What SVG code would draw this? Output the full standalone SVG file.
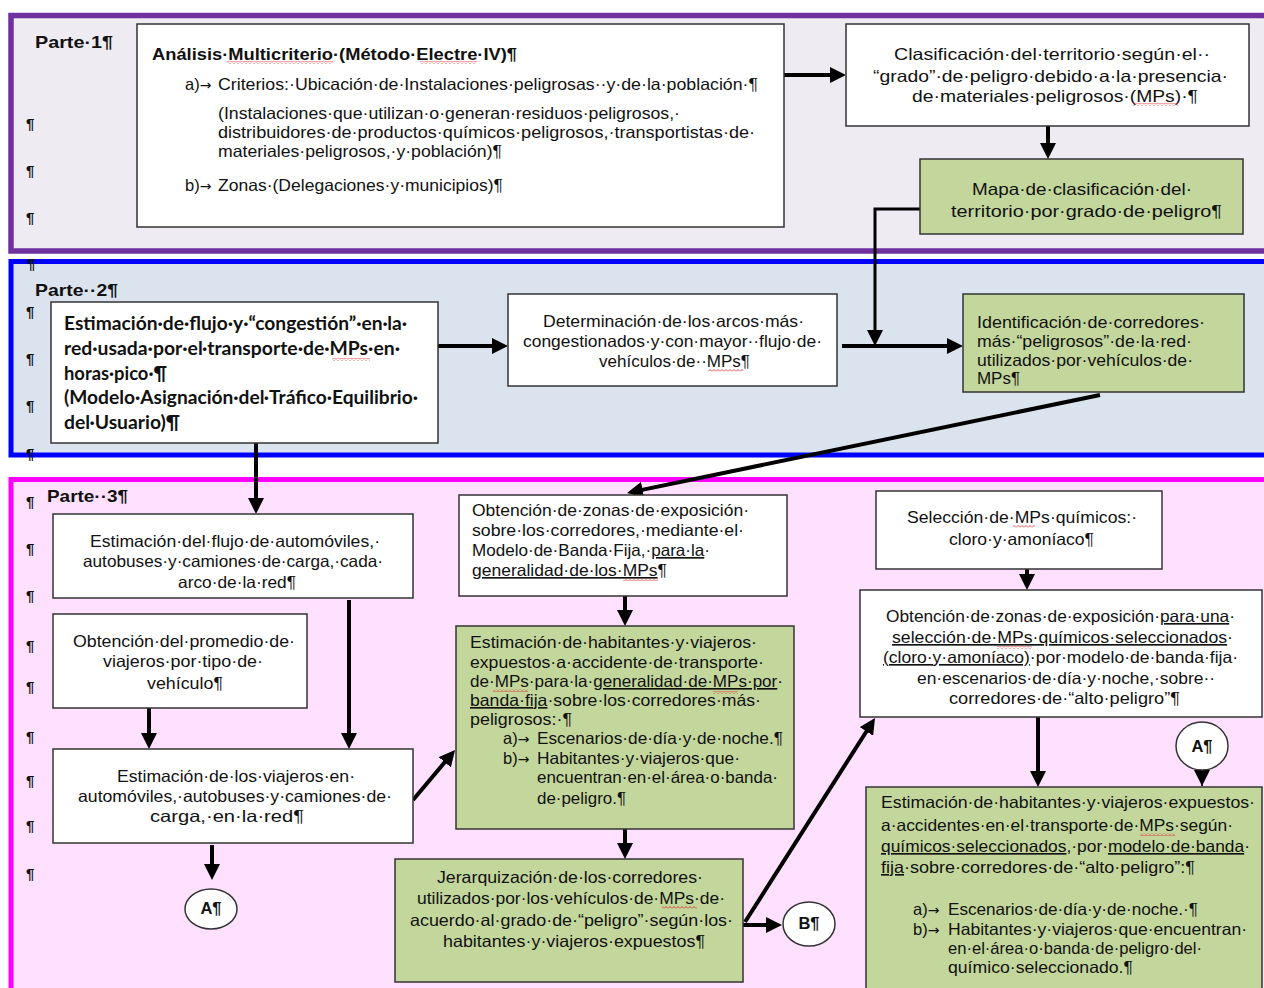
<svg xmlns="http://www.w3.org/2000/svg" width="1264" height="988" viewBox="0 0 1264 988">
<style>
.t{font-family:"Liberation Sans",Arial,sans-serif;font-size:16.5px;fill:#111}
.b{font-weight:bold}
.ar{font-family:"DejaVu Sans",sans-serif;font-size:14px}
.cal{font-family:Lato,"Liberation Sans",sans-serif;font-weight:bold;font-size:18px;fill:#111}
.pil{font-family:"Liberation Sans",Arial,sans-serif;font-weight:bold;font-size:15px;fill:#111}
.box{fill:#fff;stroke:#333;stroke-width:1.5}
.grn{fill:#C3D69B;stroke:#333;stroke-width:1.5}
.circ{fill:#fff;stroke:#333;stroke-width:1.5}
.con{stroke:#000;stroke-width:4;fill:none}
.thin{stroke:#000;stroke-width:3;fill:none}
.u{text-decoration:underline}
.sq{fill:url(#wavy)}
</style>
<defs>
<marker id="ah" viewBox="0 0 10 10" markerUnits="userSpaceOnUse" markerWidth="16" markerHeight="16" refX="5" refY="5" orient="auto">
<path d="M0,0 L10,5 L0,10 z" fill="#000"/>
</marker>
<marker id="ahs" viewBox="0 0 10 10" markerUnits="userSpaceOnUse" markerWidth="16" markerHeight="16" refX="10" refY="5" orient="auto">
<path d="M0,0 L10,5 L0,10 z" fill="#000"/>
</marker>
<pattern id="wavy" patternUnits="userSpaceOnUse" width="4" height="3">
<path d="M0,2.5 L2,0.5 L4,2.5" stroke="#e02020" stroke-width="0.8" fill="none"/>
</pattern>
</defs>

<g id="panels">
<rect x="11" y="15.5" width="1270" height="235.5" fill="#EEEBF3" stroke="#7030A0" stroke-width="5.5"/>
<rect x="11" y="261.5" width="1270" height="193.5" fill="#DBE3EF" stroke="#0000FF" stroke-width="5"/>
<rect x="11" y="479.5" width="1270" height="520" fill="#FFE1FF" stroke="#FF00FF" stroke-width="5"/>
<text class="t b" x="35" y="48" font-size="19" textLength="78" lengthAdjust="spacingAndGlyphs">Parte·1¶</text>
<text class="t b" x="35" y="296" font-size="19" textLength="83" lengthAdjust="spacingAndGlyphs">Parte··2¶</text>
<text class="t b" x="47" y="502" font-size="19" textLength="81" lengthAdjust="spacingAndGlyphs">Parte··3¶</text>
<text class="pil" x="26" y="129">¶</text>
<text class="pil" x="26" y="176">¶</text>
<text class="pil" x="26" y="223">¶</text>
<text class="pil" x="27" y="269">¶</text>
<text class="pil" x="26" y="317">¶</text>
<text class="pil" x="26" y="364">¶</text>
<text class="pil" x="26" y="411">¶</text>
<text class="pil" x="26" y="459">¶</text>
<text class="pil" x="26" y="507" font-size="13">¶</text>
<text class="pil" x="26" y="554" font-size="14">¶</text>
<text class="pil" x="26" y="601" font-size="14">¶</text>
<text class="pil" x="26" y="651" font-size="14">¶</text>
<text class="pil" x="26" y="692" font-size="14">¶</text>
<text class="pil" x="26" y="742" font-size="14">¶</text>
<text class="pil" x="26" y="786" font-size="14">¶</text>
<text class="pil" x="26" y="831" font-size="14">¶</text>
<text class="pil" x="26" y="879" font-size="14">¶</text>
</g>

<g id="connectors">
<path class="con" d="M784,75 H838" marker-end="url(#ah)"/>
<path class="con" d="M1048,126 V151" marker-end="url(#ah)"/>
<path class="thin" d="M920,209 H875 V338" marker-end="url(#ah)"/>
<path class="con" d="M438,346 H500" marker-end="url(#ah)"/>
<path class="con" d="M842,346 H955" marker-end="url(#ah)"/>
<path class="con" d="M1100,395 L634.8,491.4" marker-end="url(#ah)"/>
<path class="con" d="M256,443 V506" marker-end="url(#ah)"/>
<path class="con" d="M349,600 V741" marker-end="url(#ah)"/>
<path class="con" d="M149,708 V741" marker-end="url(#ah)"/>
<path class="con" d="M212,845 V872" marker-end="url(#ah)"/>
<path class="con" d="M413,800 L449.9,756.1" marker-end="url(#ah)"/>
<path class="con" d="M625,596 V618" marker-end="url(#ah)"/>
<path class="con" d="M625,829 V851" marker-end="url(#ah)"/>
<path class="con" d="M743,925 H774" marker-end="url(#ah)"/>
<path class="con" d="M745,922 L870.7,724.7" marker-end="url(#ah)"/>
<path class="con" d="M1027,569 V582" marker-end="url(#ah)"/>
<path class="con" d="M1038,717 V779" marker-end="url(#ah)"/>
<path stroke="#000" stroke-width="1.5" fill="none" d="M1202,770 V786" marker-end="url(#ahs)"/>
</g>

<g id="n-analisis">
<rect class="box" x="137" y="24" width="647" height="203"/>
<text class="t b" x="152" y="60" font-size="18" textLength="365" lengthAdjust="spacingAndGlyphs">Análisis·Multicriterio·(Método·Electre·IV)¶</text>
<text class="t" x="185" y="90">a)<tspan class="ar">→</tspan></text>
<text class="t" x="218" y="90" textLength="540" lengthAdjust="spacingAndGlyphs">Criterios:·Ubicación·de·Instalaciones·peligrosas··y·de·la·población·¶</text>
<text class="t" x="218" y="119" textLength="462" lengthAdjust="spacingAndGlyphs">(Instalaciones·que·utilizan·o·generan·residuos·peligrosos,·</text>
<text class="t" x="218" y="138" textLength="537" lengthAdjust="spacingAndGlyphs">distribuidores·de·productos·químicos·peligrosos,·transportistas·de·</text>
<text class="t" x="218" y="157" textLength="284" lengthAdjust="spacingAndGlyphs">materiales·peligrosos,·y·población)¶</text>
<text class="t" x="185" y="191">b)<tspan class="ar">→</tspan></text>
<text class="t" x="218" y="191" textLength="285" lengthAdjust="spacingAndGlyphs">Zonas·(Delegaciones·y·municipios)¶</text>
<rect class="sq" x="227" y="61" width="106" height="3"/>
<rect class="sq" x="420" y="61" width="57" height="3"/>
</g>

<g id="n-clasificacion">
<rect class="box" x="846" y="24" width="403" height="102"/>
<text class="t" font-size="18.5" x="894" y="60" textLength="316" lengthAdjust="spacingAndGlyphs">Clasificación·del·territorio·según·el··</text>
<text class="t" font-size="18.5" x="873" y="81.5" textLength="355" lengthAdjust="spacingAndGlyphs">“grado”·de·peligro·debido·a·la·presencia·</text>
<text class="t" font-size="18.5" x="912" y="102" textLength="286" lengthAdjust="spacingAndGlyphs">de·materiales·peligrosos·(MPs)·¶</text>
<rect class="sq" x="1133" y="103" width="45" height="3"/>
</g>

<g id="n-mapa">
<rect class="grn" x="920" y="159" width="323" height="75"/>
<text class="t" font-size="17.5" x="972" y="195" textLength="220" lengthAdjust="spacingAndGlyphs">Mapa·de·clasificación·del·</text>
<text class="t" font-size="17.5" x="951" y="217" textLength="271" lengthAdjust="spacingAndGlyphs">territorio·por·grado·de·peligro¶</text>
</g>

<g id="n-flujo">
<rect class="box" x="51" y="302" width="387" height="141"/>
<text class="cal" x="64" y="330" textLength="343" lengthAdjust="spacingAndGlyphs">Estimación·de·flujo·y·“congestión”·en·la·</text>
<text class="cal" x="64" y="355" textLength="336" lengthAdjust="spacingAndGlyphs">red·usada·por·el·transporte·de·MPs·en·</text>
<text class="cal" x="64" y="380" textLength="103" lengthAdjust="spacingAndGlyphs">horas·pico·¶</text>
<text class="cal" x="64" y="404" textLength="354" lengthAdjust="spacingAndGlyphs">(Modelo·Asignación·del·Tráfico·Equilibrio·</text>
<text class="cal" x="64" y="429" textLength="116" lengthAdjust="spacingAndGlyphs">del·Usuario)¶</text>
<rect class="sq" x="332" y="358" width="38" height="3"/>
</g>

<g id="n-arcos">
<rect class="box" x="508" y="294" width="329" height="92"/>
<text class="t" x="543" y="327" textLength="261" lengthAdjust="spacingAndGlyphs">Determinación·de·los·arcos·más·</text>
<text class="t" x="523" y="347" textLength="299" lengthAdjust="spacingAndGlyphs">congestionados·y·con·mayor··flujo·de·</text>
<text class="t" x="599" y="367" textLength="151" lengthAdjust="spacingAndGlyphs">vehículos·de··MPs¶</text>
<rect class="sq" x="708" y="369" width="35" height="3"/>
</g>

<g id="n-corredores">
<rect class="grn" x="963" y="294" width="281" height="98"/>
<text class="t" x="977" y="328" textLength="228" lengthAdjust="spacingAndGlyphs">Identificación·de·corredores·</text>
<text class="t" x="977" y="347" textLength="215" lengthAdjust="spacingAndGlyphs">más·“peligrosos”·de·la·red·</text>
<text class="t" x="977" y="366" textLength="216" lengthAdjust="spacingAndGlyphs">utilizados·por·vehículos·de·</text>
<text class="t" x="977" y="384" textLength="43" lengthAdjust="spacingAndGlyphs">MPs¶</text>
</g>

<g id="n-automoviles">
<rect class="box" x="53" y="514" width="360" height="84"/>
<text class="t" x="90" y="547" textLength="290" lengthAdjust="spacingAndGlyphs">Estimación·del·flujo·de·automóviles,·</text>
<text class="t" x="83" y="567" textLength="300" lengthAdjust="spacingAndGlyphs">autobuses·y·camiones·de·carga,·cada·</text>
<text class="t" x="178" y="588" textLength="118" lengthAdjust="spacingAndGlyphs">arco·de·la·red¶</text>
</g>

<g id="n-promedio">
<rect class="box" x="53" y="614" width="254" height="94"/>
<text class="t" x="73" y="647" textLength="222" lengthAdjust="spacingAndGlyphs">Obtención·del·promedio·de·</text>
<text class="t" x="103" y="667" textLength="160" lengthAdjust="spacingAndGlyphs">viajeros·por·tipo·de·</text>
<text class="t" x="147" y="689" textLength="76" lengthAdjust="spacingAndGlyphs">vehículo¶</text>
</g>

<g id="n-viajeros">
<rect class="box" x="53" y="749" width="360" height="94"/>
<text class="t" x="117" y="782" textLength="238" lengthAdjust="spacingAndGlyphs">Estimación·de·los·viajeros·en·</text>
<text class="t" x="78" y="802" textLength="314" lengthAdjust="spacingAndGlyphs">automóviles,·autobuses·y·camiones·de·</text>
<text class="t" x="150" y="822" textLength="154" lengthAdjust="spacingAndGlyphs">carga,·en·la·red¶</text>
</g>

<g id="n-A1">
<ellipse class="circ" cx="211" cy="909" rx="26" ry="20"/>
<text class="t b" font-size="13" x="211" y="914" text-anchor="middle">A¶</text>
</g>

<g id="n-zonas">
<rect class="box" x="459" y="495" width="328" height="101"/>
<text class="t" x="472" y="516" textLength="277" lengthAdjust="spacingAndGlyphs">Obtención·de·zonas·de·exposición·</text>
<text class="t" x="472" y="536" textLength="272" lengthAdjust="spacingAndGlyphs">sobre·los·corredores,·mediante·el·</text>
<text class="t" x="472" y="556" textLength="238" lengthAdjust="spacingAndGlyphs">Modelo·de·Banda·Fija,·<tspan class="u">para·la</tspan>·</text>
<text class="t" x="472" y="576" textLength="195" lengthAdjust="spacingAndGlyphs"><tspan class="u">generalidad·de·los·MPs</tspan>¶</text>
<rect class="sq" x="623" y="578" width="35" height="3"/>
</g>

<g id="n-habitantes">
<rect class="grn" x="456" y="626" width="338" height="203"/>
<text class="t" x="470" y="648" textLength="287" lengthAdjust="spacingAndGlyphs">Estimación·de·habitantes·y·viajeros·</text>
<text class="t" x="470" y="668" textLength="294" lengthAdjust="spacingAndGlyphs">expuestos·a·accidente·de·transporte·</text>
<text class="t" x="470" y="687" textLength="313" lengthAdjust="spacingAndGlyphs">de·MPs·para·la·<tspan class="u">generalidad·de·MPs·por</tspan>·</text>
<text class="t" x="470" y="706" textLength="291" lengthAdjust="spacingAndGlyphs"><tspan class="u">banda·fija</tspan>·sobre·los·corredores·más·</text>
<text class="t" x="470" y="725" textLength="102" lengthAdjust="spacingAndGlyphs">peligrosos:·¶</text>
<text class="t" x="503" y="744">a)<tspan class="ar">→</tspan></text>
<text class="t" x="537" y="744" textLength="246" lengthAdjust="spacingAndGlyphs">Escenarios·de·día·y·de·noche.¶</text>
<text class="t" x="503" y="764">b)<tspan class="ar">→</tspan></text>
<text class="t" x="537" y="764" textLength="203" lengthAdjust="spacingAndGlyphs">Habitantes·y·viajeros·que·</text>
<text class="t" x="537" y="783" textLength="241" lengthAdjust="spacingAndGlyphs">encuentran·en·el·área·o·banda·</text>
<text class="t" x="537" y="804" textLength="89" lengthAdjust="spacingAndGlyphs">de·peligro.¶</text>
<rect class="sq" x="493" y="689" width="35" height="3"/>
<rect class="sq" x="713" y="691" width="25" height="3"/>
</g>

<g id="n-jerarquizacion">
<rect class="grn" x="395" y="859" width="348" height="123"/>
<text class="t" x="437" y="883" textLength="266" lengthAdjust="spacingAndGlyphs">Jerarquización·de·los·corredores·</text>
<text class="t" x="417" y="904" textLength="308" lengthAdjust="spacingAndGlyphs">utilizados·por·los·vehículos·de·MPs·de·</text>
<text class="t" x="410" y="926" textLength="323" lengthAdjust="spacingAndGlyphs">acuerdo·al·grado·de·“peligro”·según·los·</text>
<text class="t" x="443" y="947" textLength="262" lengthAdjust="spacingAndGlyphs">habitantes·y·viajeros·expuestos¶</text>
<rect class="sq" x="662" y="906" width="35" height="3"/>
</g>

<g id="n-B">
<ellipse class="circ" cx="809" cy="924" rx="26" ry="22"/>
<text class="t b" font-size="13" x="809" y="929" text-anchor="middle">B¶</text>
</g>

<g id="n-seleccion">
<rect class="box" x="876" y="491" width="286" height="78"/>
<text class="t" x="907" y="523" textLength="230" lengthAdjust="spacingAndGlyphs">Selección·de·MPs·químicos:·</text>
<text class="t" x="949" y="545" textLength="145" lengthAdjust="spacingAndGlyphs">cloro·y·amoníaco¶</text>
<rect class="sq" x="1013" y="525" width="22" height="3"/>
</g>

<g id="n-zonas-quimicos">
<rect class="box" x="860" y="590" width="402" height="127"/>
<text class="t" x="886" y="622" textLength="349" lengthAdjust="spacingAndGlyphs">Obtención·de·zonas·de·exposición·<tspan class="u">para·una</tspan>·</text>
<text class="t" x="892" y="643" textLength="341" lengthAdjust="spacingAndGlyphs"><tspan class="u">selección·de·MPs·químicos·seleccionados</tspan>·</text>
<text class="t" x="883" y="663" textLength="355" lengthAdjust="spacingAndGlyphs"><tspan class="u">(cloro·y·amoníaco)</tspan>·por·modelo·de·banda·fija·</text>
<text class="t" x="917" y="684" textLength="298" lengthAdjust="spacingAndGlyphs">en·escenarios·de·día·y·noche,·sobre··</text>
<text class="t" x="949" y="704" textLength="231" lengthAdjust="spacingAndGlyphs">corredores·de·“alto·peligro”¶</text>
<rect class="sq" x="997" y="646" width="35" height="3"/>
</g>

<g id="n-A2">
<ellipse class="circ" cx="1202" cy="746" rx="26" ry="24"/>
<text class="t b" font-size="13" x="1202" y="752" text-anchor="middle">A¶</text>
</g>

<g id="n-habitantes-quimicos">
<rect class="grn" x="866" y="787" width="396" height="215"/>
<text class="t" x="881" y="808" textLength="374" lengthAdjust="spacingAndGlyphs">Estimación·de·habitantes·y·viajeros·expuestos·</text>
<text class="t" x="881" y="831" textLength="352" lengthAdjust="spacingAndGlyphs">a·accidentes·en·el·transporte·de·MPs·según·</text>
<text class="t" x="881" y="852" textLength="369" lengthAdjust="spacingAndGlyphs"><tspan class="u">químicos·seleccionados</tspan>,·por·<tspan class="u">modelo·de·banda</tspan>·</text>
<text class="t" x="881" y="873" textLength="314" lengthAdjust="spacingAndGlyphs"><tspan class="u">fija</tspan>·sobre·corredores·de·“alto·peligro”:¶</text>
<text class="t" x="913" y="915">a)<tspan class="ar">→</tspan></text>
<text class="t" x="948" y="915" textLength="250" lengthAdjust="spacingAndGlyphs">Escenarios·de·día·y·de·noche.·¶</text>
<text class="t" x="913" y="935">b)<tspan class="ar">→</tspan></text>
<text class="t" x="948" y="935" textLength="299" lengthAdjust="spacingAndGlyphs">Habitantes·y·viajeros·que·encuentran·</text>
<text class="t" x="948" y="954" textLength="254" lengthAdjust="spacingAndGlyphs">en·el·área·o·banda·de·peligro·del·</text>
<text class="t" x="948" y="973" textLength="185" lengthAdjust="spacingAndGlyphs">químico·seleccionado.¶</text>
<rect class="sq" x="1140" y="833" width="35" height="3"/>
</g>
</svg>
